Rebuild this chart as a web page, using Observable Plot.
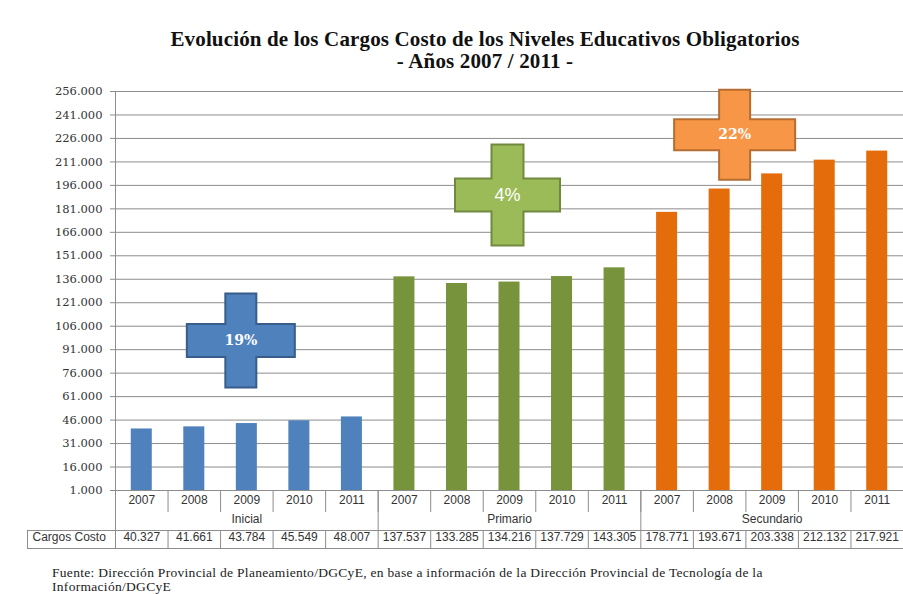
<!DOCTYPE html>
<html><head><meta charset="utf-8">
<script src="https://cdn.jsdelivr.net/npm/d3@7"></script>
<script src="https://cdn.jsdelivr.net/npm/@observablehq/plot@0.6"></script>
<style>
body{margin:0;background:#fff;}
#wrap{width:903px;height:594px;overflow:hidden;position:relative;background:#fff}
#title{box-sizing:border-box;width:903px;height:75px;padding:28px 0 0 67px;text-align:center;font:bold 21px/22px "Liberation Serif",serif;letter-spacing:0.15px;color:#111}
#chart svg{display:block;overflow:visible}
#foot{padding:16px 0 0 52px;font:13.5px/14px "Liberation Serif",serif;letter-spacing:0.3px;color:#222;white-space:nowrap}
</style></head><body>
<div id="wrap">
<div id="title">Evolución de los Cargos Costo de los Niveles Educativos Obligatorios<br>- Años 2007 / 2011 -</div>
<div id="chart"></div>
<div id="foot">Fuente: Dirección Provincial de Planeamiento/DGCyE, en base a información de la Dirección Provincial de Tecnología de la<br>Información/DGCyE</div>
</div>
<script>
// ---- data ----
const niveles = ["Inicial", "Primario", "Secundario"];
const anios = ["2007", "2008", "2009", "2010", "2011"];
const inicial = [40327, 41661, 43784, 45549, 48007];
const primario = [137537, 133285, 134216, 137729, 143305];
const secundario = [178771, 193671, 203338, 212132, 217921];
const serie = "Cargos Costo";
const yTicks = [1000, 16000, 31000, 46000, 61000, 76000, 91000, 106000, 121000,
  136000, 151000, 166000, 181000, 196000, 211000, 226000, 241000, 256000];
const crecimientos = [
  {nivel: "Inicial", anio: "2009", valor: 96900, texto: "19%"},
  {nivel: "Primario", anio: "2009", valor: 189900, texto: "4%"},
  {nivel: "Secundario", anio: "2008", valor: 228300, texto: "22%"}
];

// ---- styles ----
const colores = ["#4F81BD", "#77933C", "#E46C0A"];
const cruzStyle = [
  {fill: "#4F81BD", stroke: "#385D8A", dx: -6, hw: 54, hh: 16.5, vw: 15.5, vh: 47, font: "DejaVu Serif", size: 14, weight: "bold"},
  {fill: "#9BBB59", stroke: "#71893F", dx: -2, hw: 52.5, hh: 16.5, vw: 16, vh: 50.5, font: "Liberation Sans", size: 18, weight: "normal"},
  {fill: "#F79646", stroke: "#B66D31", dx: 15, hw: 60.5, hh: 15.5, vw: 15.5, vh: 45, font: "DejaVu Serif", size: 14, weight: "bold"}
];
const lineColor = "#8c8c8c";
const textColor = "#333";

const valores = {Inicial: inicial, Primario: primario, Secundario: secundario};
const data = niveles.flatMap(n => anios.map((a, i) => ({nivel: n, anio: a, key: n + " " + a, valor: valores[n][i]})));
const keys = data.map(d => d.key);
const fmt = d3.formatLocale({decimal: ",", thousands: ".", grouping: [3], currency: ["$", ""]}).format(",d");

const W = 903, ML = 115, MR = 0, MT = 16, MB = 60, H = 475;
const frameH = H - MT - MB;
const step = (W - ML - MR) / keys.length;

function cruz(s) {
  return {draw(ctx) {
    ctx.moveTo(-s.vw, -s.vh); ctx.lineTo(s.vw, -s.vh); ctx.lineTo(s.vw, -s.hh);
    ctx.lineTo(s.hw, -s.hh); ctx.lineTo(s.hw, s.hh); ctx.lineTo(s.vw, s.hh);
    ctx.lineTo(s.vw, s.vh); ctx.lineTo(-s.vw, s.vh); ctx.lineTo(-s.vw, s.hh);
    ctx.lineTo(-s.hw, s.hh); ctx.lineTo(-s.hw, -s.hh); ctx.lineTo(-s.vw, -s.hh);
    ctx.closePath();
  }};
}

const cruzMarks = crecimientos.flatMap((c, i) => {
  const s = cruzStyle[i];
  const xk = d => d.nivel + " " + d.anio;
  return [
    Plot.dot([c], {x: xk, y: "valor", r: 10, symbol: cruz(s), fill: s.fill, stroke: s.stroke, strokeWidth: 2, dx: s.dx}),
    Plot.text([c], {x: xk, y: "valor", text: "texto", fill: "white", fontFamily: s.font, fontSize: s.size, fontWeight: s.weight, dx: s.dx})
  ];
});

const chart = Plot.plot({
  width: W, height: H, marginLeft: ML, marginRight: MR, marginTop: MT, marginBottom: MB,
  style: {fontFamily: "Liberation Sans, Arial, sans-serif", fontSize: "12px", background: "#fff", color: textColor},
  x: {type: "band", domain: keys, paddingInner: 0.6, paddingOuter: 0.3, round: false, axis: null},
  y: {domain: [yTicks[0], yTicks[yTicks.length - 1]], axis: null},
  color: {domain: niveles, range: colores},
  marks: [
    Plot.gridY(yTicks, {stroke: lineColor, strokeOpacity: 1}),
    Plot.axisY(yTicks, {label: null, tickSize: 5, tickPadding: 8, tickFormat: fmt, stroke: lineColor, fill: textColor, fontFamily: "DejaVu Serif", fontSize: 11.5}),
    Plot.barY(data, {x: "key", y1: yTicks[0], y2: "valor", fill: "nivel"}),
    // table / category axis lines
    Plot.ruleX([keys[0]], {dx: -step / 2, stroke: lineColor, insetBottom: -58}),
    Plot.ruleX(keys.slice(1), {dx: -step / 2, stroke: lineColor, insetTop: frameH, insetBottom: -22}),
    Plot.ruleX(niveles.slice(1).map(n => n + " " + anios[0]), {dx: -step / 2, stroke: lineColor, insetTop: frameH, insetBottom: -40}),
    Plot.ruleX(keys, {dx: -step / 2, stroke: lineColor, insetTop: frameH + 40, insetBottom: -58}),
    Plot.frame({stroke: lineColor, insetTop: frameH + 40, insetBottom: -58, insetLeft: -88}),
    Plot.text(data, {x: "key", text: "anio", frameAnchor: "bottom", dy: 13, fill: textColor}),
    Plot.text(niveles, {x: n => n + " " + anios[2], text: d => d, frameAnchor: "bottom", dy: 32, fill: textColor}),
    Plot.text(data, {x: "key", text: d => fmt(d.valor), frameAnchor: "bottom", dy: 50, fill: textColor}),
    Plot.text([serie], {text: d => d, frameAnchor: "bottom-left", textAnchor: "start", dx: -83, dy: 50, fill: textColor}),
    ...cruzMarks
  ]
});
document.getElementById("chart").appendChild(chart);
</script>
</body></html>
